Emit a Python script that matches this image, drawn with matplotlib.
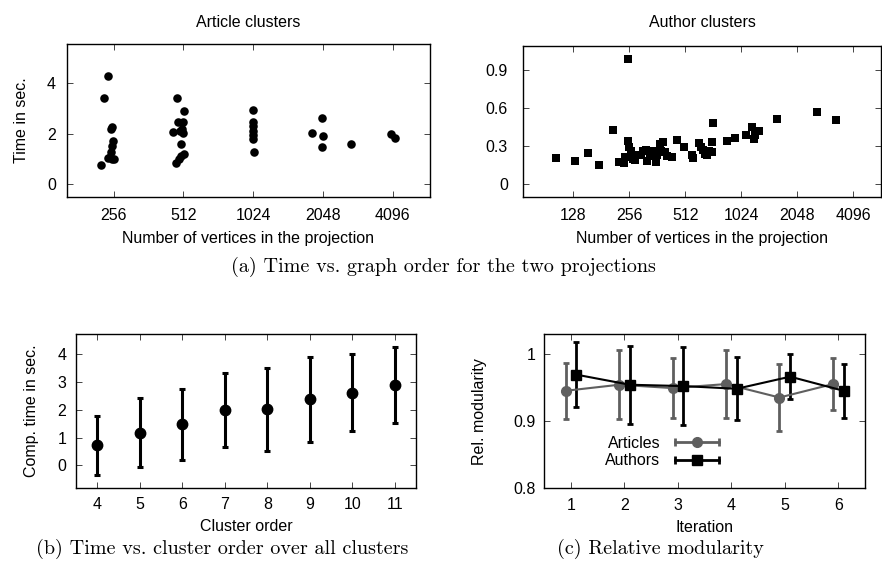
import matplotlib
matplotlib.use("Agg")
import matplotlib.pyplot as plt
from matplotlib.ticker import NullLocator, FixedLocator
from matplotlib.lines import Line2D
from matplotlib.legend_handler import HandlerLine2D, HandlerTuple

plt.rcParams['font.family'] = ['Liberation Sans', 'DejaVu Sans']

# ---- (a) Article clusters: vertices, time (s)
article_vertices = [242, 232, 252, 250, 255, 252, 249, 247, 243, 257, 252, 226,
                    480, 513, 483, 510, 464, 493, 510, 505, 502, 515, 500, 490, 478,
                    1022, 1018, 1024, 1024, 1022, 1024, 1035,
                    1841, 2034, 2050, 2040, 2711, 4034, 4210]
article_time = [4.29, 3.40, 2.28, 2.18, 1.70, 1.50, 1.28, 1.10, 1.05, 1.00, 1.02, 0.76,
                3.40, 2.90, 2.47, 2.47, 2.07, 2.12, 2.05, 2.18, 1.60, 1.22, 1.12, 1.00, 0.83,
                2.94, 2.45, 2.30, 2.10, 1.95, 1.78, 1.29,
                2.04, 2.63, 1.93, 1.49, 1.61, 1.98, 1.82]

# ---- (a) Author clusters
author_vertices = [104, 130, 153, 175, 208, 251, 251, 256, 226, 239, 244, 262, 268, 275,
                   285, 297, 305, 314, 320, 330, 340, 345, 355, 362, 373, 380, 390, 398,
                   410, 433, 462, 505, 554, 565, 608, 625, 640, 655, 668, 690, 710, 723,
                   710, 857, 949, 1086, 1162, 1196, 1215, 1280, 1590, 2612, 3316]
author_time = [0.205, 0.186, 0.25, 0.152, 0.431, 0.989, 0.344, 0.292, 0.178, 0.165, 0.215,
               0.26, 0.20, 0.19, 0.23, 0.23, 0.265, 0.27, 0.18, 0.22, 0.25, 0.26, 0.178,
               0.23, 0.32, 0.26, 0.336, 0.257, 0.22, 0.218, 0.35, 0.297, 0.231, 0.205,
               0.323, 0.29, 0.27, 0.24, 0.231, 0.26, 0.336, 0.48, 0.257, 0.344, 0.368,
               0.389, 0.455, 0.355, 0.39, 0.42, 0.515, 0.568, 0.507]

art_xticks = [256, 512, 1024, 2048, 4096]
auth_xticks = [128, 256, 512, 1024, 2048, 4096]

# ---- (b) time vs cluster order
cluster_order = [4, 5, 6, 7, 8, 9, 10, 11]
comp_time_mean = [0.72, 1.18, 1.48, 1.99, 2.01, 2.37, 2.61, 2.90]
comp_time_std = [1.07, 1.25, 1.27, 1.33, 1.50, 1.53, 1.39, 1.37]

# ---- (c) relative modularity
iterations = [1, 2, 3, 4, 5, 6]
art_mod = [0.945, 0.954, 0.949, 0.955, 0.935, 0.955]
art_mod_err = [0.042, 0.051, 0.045, 0.050, 0.050, 0.039]
auth_mod = [0.969, 0.954, 0.952, 0.948, 0.966, 0.945]
auth_mod_err = [0.048, 0.058, 0.058, 0.047, 0.033, 0.040]

FS = 11.5
GRAY = '#5f5f5f'

fig = plt.figure(figsize=(8.82, 5.73), dpi=100)

def style(ax, ypad=8, xpad=8):
    for s in ax.spines.values():
        s.set_linewidth(1.0)
        s.set_color('black')
    ax.tick_params(which='both', direction='in', top=True, right=True,
                   length=4, width=0.7, color='#444444', labelsize=FS)
    ax.tick_params(axis='y', pad=ypad)
    ax.tick_params(axis='x', pad=xpad)

# top-left
ax1 = fig.add_axes([67/882, 1-197/573, 363/882, 153/573])
ax1.scatter(article_vertices, article_time, s=38, c='black', marker='o', linewidths=0)
ax1.set_xscale('log', base=2)
ax1.set_xlim(161, 5940)
ax1.set_ylim(-0.5, 5.55)
ax1.xaxis.set_major_locator(FixedLocator(art_xticks))
ax1.set_xticklabels([str(v) for v in art_xticks])
ax1.xaxis.set_minor_locator(NullLocator())
ax1.set_yticks([0, 2, 4])
style(ax1, ypad=8, xpad=8)
ax1.set_title('Article clusters', fontsize=FS, pad=12)
ax1.set_xlabel('Number of vertices in the projection', fontsize=FS, labelpad=6)
ax1.set_ylabel('Time in sec.', fontsize=FS, labelpad=13)

# top-right
ax2 = fig.add_axes([523.3/882, 1-196.7/573, (881-523.3)/882, 150.7/573])
ax2.scatter(author_vertices, author_time, s=36, c='black', marker='s', linewidths=0)
ax2.set_xscale('log', base=2)
ax2.set_xlim(69, 5760)
ax2.set_ylim(-0.098, 1.09)
ax2.xaxis.set_major_locator(FixedLocator(auth_xticks))
ax2.set_xticklabels([str(v) for v in auth_xticks])
ax2.xaxis.set_minor_locator(NullLocator())
ax2.set_yticks([0, 0.3, 0.6, 0.9])
ax2.set_yticklabels(['0', '0.3', '0.6', '0.9'])
style(ax2, ypad=11, xpad=8)
ax2.set_title('Author clusters', fontsize=FS, pad=14)
ax2.set_xlabel('Number of vertices in the projection', fontsize=FS, labelpad=6)

# bottom-left
ax3 = fig.add_axes([76/882, 1-487.7/573, 340/882, 153.4/573])
ax3.errorbar(cluster_order, comp_time_mean, yerr=comp_time_std, fmt='o', color='black',
             ms=7.5, elinewidth=2.2, capsize=2, capthick=2.2)
ax3.set_xlim(3.5, 11.5)
ax3.set_ylim(-0.8, 4.71)
ax3.set_xticks(cluster_order)
ax3.set_yticks([0, 1, 2, 3, 4])
style(ax3, ypad=7, xpad=7)
ax3.set_xlabel('Cluster order', fontsize=FS, labelpad=5)
ax3.set_ylabel('Comp. time in sec.', fontsize=FS, labelpad=13)

# bottom-right
ax4 = fig.add_axes([544.3/882, 1-488.3/573, 320.7/882, 154/573])
xa = [i - 0.1 for i in iterations]
xb = [i + 0.1 for i in iterations]
ax4.errorbar(xa, art_mod, yerr=art_mod_err, fmt='-o', color=GRAY, ms=7, lw=1.5,
             elinewidth=2, capsize=2, capthick=2)
ax4.errorbar(xb, auth_mod, yerr=auth_mod_err, fmt='-s', color='black', ms=7.5, lw=1.5,
             elinewidth=2, capsize=2, capthick=2)
ax4.set_xlim(0.5, 6.5)
ax4.set_ylim(0.8, 1.029)
ax4.set_xticks(iterations)
ax4.set_yticks([0.8, 0.9, 1.0])
ax4.set_yticklabels(['0.8', '0.9', '1'])
style(ax4, ypad=6, xpad=7)
ax4.set_xlabel('Iteration', fontsize=FS, labelpad=5)
ax4.set_ylabel('Rel. modularity', fontsize=FS, labelpad=19)

cap_a = Line2D([], [], color=GRAY, lw=2, marker='|', ms=6, mew=2)
mk_a = Line2D([], [], color=GRAY, lw=0, marker='o', ms=7)
cap_b = Line2D([], [], color='black', lw=2, marker='|', ms=6, mew=2)
mk_b = Line2D([], [], color='black', lw=0, marker='s', ms=7.5)
ax4.legend([(cap_a, mk_a), (cap_b, mk_b)], ['Articles', 'Authors'],
           handler_map={cap_a: HandlerLine2D(numpoints=2), cap_b: HandlerLine2D(numpoints=2),
                        tuple: HandlerTuple(ndivide=1, pad=0)},
           loc='upper left', bbox_to_anchor=(0.19, 0.34), frameon=False, fontsize=FS,
           markerfirst=False, handlelength=3.4, handletextpad=0.6, labelspacing=0.15,
           borderpad=0, borderaxespad=0, numpoints=1)

# captions
cf = dict(family='cmr10', fontsize=14.5, ha='center', va='center')
fig.text(443/882, 1-267/573, '(a) Time vs. graph order for the two projections', **cf)
fig.text(222/882, 1-549/573, '(b) Time vs. cluster order over all clusters', **cf)
fig.text(660/882, 1-549/573, '(c) Relative modularity', **cf)

fig.savefig('out.png', dpi=100)
